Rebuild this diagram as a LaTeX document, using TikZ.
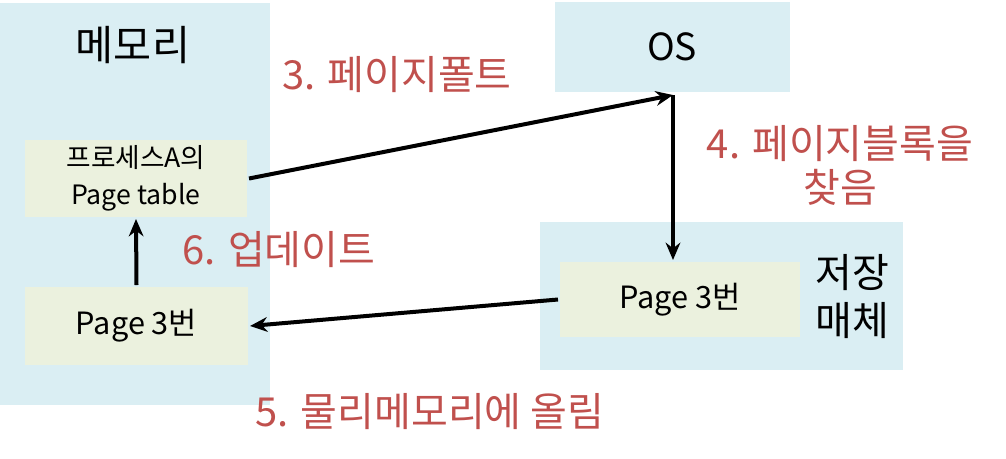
\documentclass[tikz,border=0pt]{standalone}
\usepackage{fontspec}
\setmainfont{Noto Sans CJK KR}
\usetikzlibrary{arrows.meta}
\usetikzlibrary{positioning}
\definecolor{memblue}{HTML}{DAEEF3}
\definecolor{pagegreen}{HTML}{EBF1DE}
\definecolor{steptext}{HTML}{C0504D}

\begin{document}
\begin{tikzpicture}[x=0.75pt,y=-0.75pt,->,>={Stealth[length=13pt,width=11pt]},line width=3pt,
        area/.style={fill=memblue,draw=none},
        pagebox/.style={fill=pagegreen,draw=none,align=center,font=\fontsize{23}{28}\selectfont},
        steplabel/.style={text=steptext,align=center,font=\fontsize{30}{33}\selectfont}]
        \useasboundingbox (0,0) rectangle (1006,458);
        \fill[memblue] (0,3) rectangle (270,405);
        \fill[memblue] (555,2) rectangle (790,92);
        \fill[memblue] (540,222) rectangle (903,370);
        \node[pagebox,minimum width=222*0.75pt,minimum height=77*0.75pt,font=\fontsize{20}{28}\selectfont] (pt) at (136,178.5) {프로세스A의\\Page table};
        \node[pagebox,minimum width=223*0.75pt,minimum height=78*0.75pt] (p3L) at (136.5,326) {Page 3번};
        \node[pagebox,minimum width=240*0.75pt,minimum height=75*0.75pt] (p3R) at (680,299.5) {Page 3번};
        \node[font=\fontsize{31}{36}\selectfont] (mem) at (133,45) {메모리};
        \node[font=\fontsize{28}{32}\selectfont] (os) at (672,47) {OS};
        \node[align=center,font=\fontsize{30}{36}\selectfont] (disk) at (852,297) {저장\\매체};
        \node[steplabel] (s3) at (397,75) {3. 페이지폴트};
        \node[steplabel] (s4) at (840,165) {4. 페이지블록을\\찾음};
        \node[steplabel] (s6) at (279,250) {6. 업데이트};
        \node[steplabel] (s5) at (430,412) {5. 물리메모리에 올림};
        \coordinate (osin) at (673,95);
        \path   (pt.east) edge (osin)
                (osin) edge (osin |- p3R.north)
                (p3R.west) edge (p3L.east)
                (p3L.north) edge (pt.south);
\end{tikzpicture}
\end{document}
